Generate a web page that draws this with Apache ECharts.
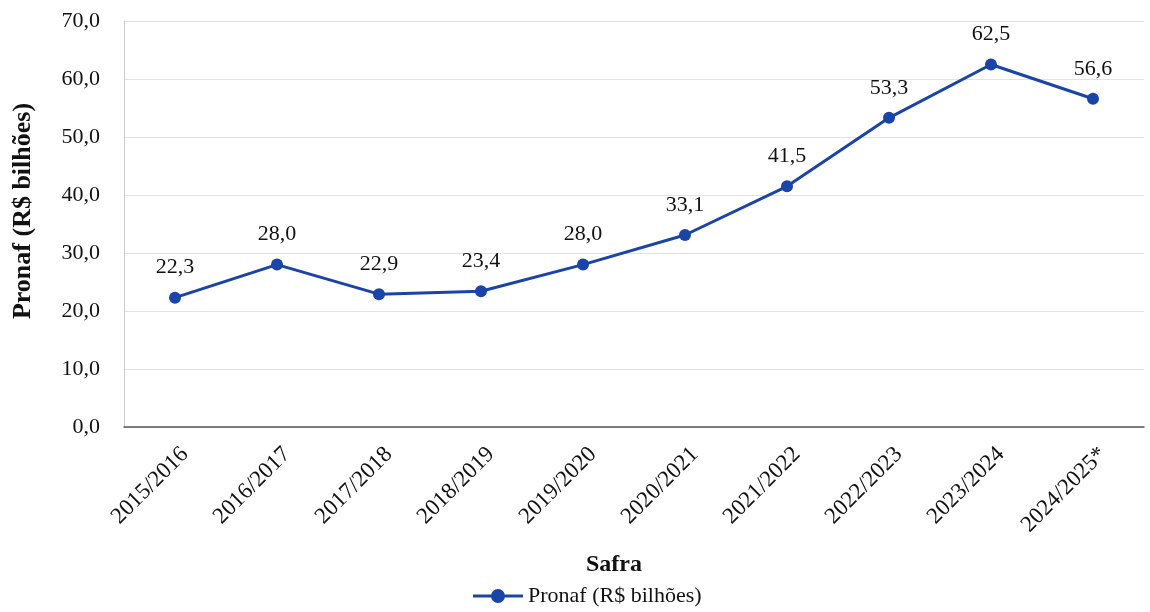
<!DOCTYPE html>
<html><head><meta charset="utf-8">
<script src="https://cdn.jsdelivr.net/npm/echarts@6/dist/echarts.min.js"></script>
<style>html,body{margin:0;padding:0;background:#fff}#c{width:1150px;height:612px}</style>
</head><body><div id="c"></div>
<script>
const categories = ['2015/2016','2016/2017','2017/2018','2018/2019','2019/2020','2020/2021','2021/2022','2022/2023','2023/2024','2024/2025*'];
const pronaf = [22.3, 28.0, 22.9, 23.4, 28.0, 33.1, 41.5, 53.3, 62.5, 56.6];
const seriesName = 'Pronaf (R$ bilhões)';
const fmt = v => v.toFixed(1).replace('.', ',');
const font = '"Liberation Serif", "Times New Roman", serif';
const blue = '#1a44a8';
const chart = echarts.init(document.getElementById('c'));
chart.setOption({
  animation: false,
  textStyle: { fontFamily: font },
  grid: { left: 124, right: 6, top: 21, bottom: 185, containLabel: false },
  legend: {
    bottom: 0, left: 468, itemWidth: 50, itemHeight: 14, itemGap: 8,
    textStyle: { fontFamily: font, fontSize: 22, color: '#111' },
    data: [{ name: seriesName, icon: 'path://M0,5.5 L19,5.5 L19,8.5 L0,8.5 Z M31,5.5 L50,5.5 L50,8.5 L31,8.5 Z M18,7 A7,7 0 1,1 32,7 A7,7 0 1,1 18,7 Z' }]
  },
  xAxis: {
    type: 'category', data: categories, boundaryGap: true,
    name: 'Safra', nameLocation: 'middle', nameGap: 126,
    nameTextStyle: { fontFamily: font, fontSize: 24, fontWeight: 'bold', color: '#111', padding: [0, 40, 0, 0] },
    axisLine: { lineStyle: { color: '#555', width: 1.5 } },
    axisTick: { show: false },
    axisLabel: { rotate: 45, fontFamily: font, fontSize: 23, lineHeight: 28, color: '#111', margin: 14, formatter: v => '\n' + v }
  },
  yAxis: {
    type: 'value', min: 0, max: 70, interval: 10,
    name: seriesName, nameLocation: 'middle', nameGap: 88, nameRotate: 90,
    nameTextStyle: { fontFamily: font, fontSize: 26, fontWeight: 'bold', color: '#111', padding: [0, 0, 0, 26] },
    axisLine: { show: true, lineStyle: { color: '#ccc' } },
    axisTick: { show: false },
    axisLabel: { fontFamily: font, fontSize: 22, color: '#111', margin: 24, formatter: v => fmt(v) },
    splitLine: { lineStyle: { color: '#e2e2e2' } }
  },
  series: [{
    name: seriesName, type: 'line', data: pronaf,
    symbol: 'circle', symbolSize: 12,
    lineStyle: { color: blue, width: 3 },
    itemStyle: { color: blue },
    label: { show: true, position: 'top', distance: 13, fontFamily: font, fontSize: 22, color: '#111', formatter: p => fmt(p.value) }
  }]
});
</script></body></html>
